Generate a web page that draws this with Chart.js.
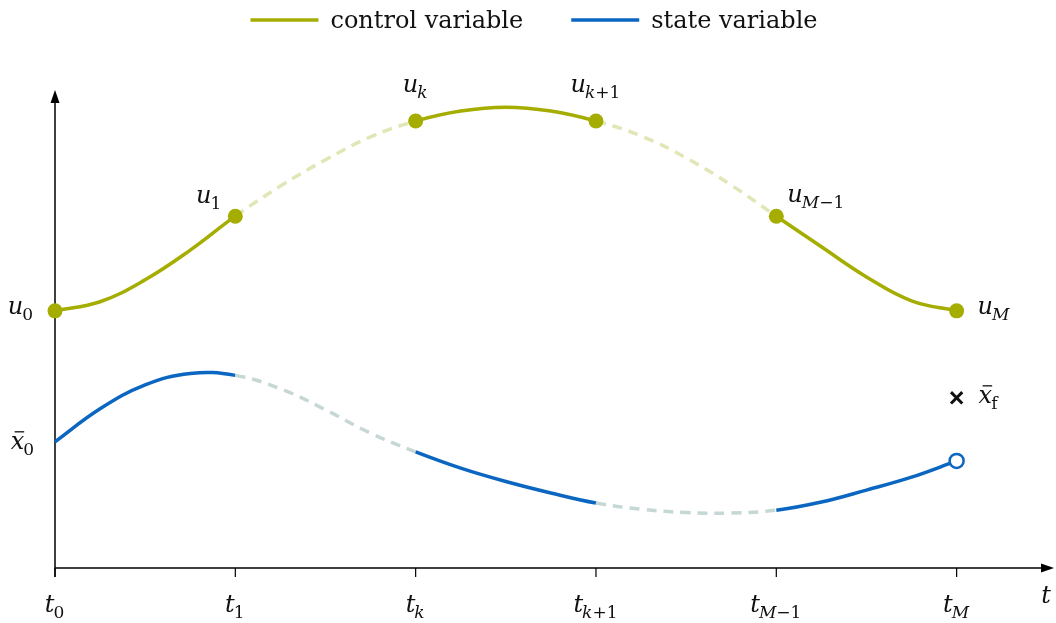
<!DOCTYPE html>
<html>
<head>
<meta charset="utf-8">
<script src="https://cdn.jsdelivr.net/npm/chart.js@4.4.1/dist/chart.umd.min.js"></script>
<style>
  html, body { margin: 0; padding: 0; background: #fff; }
  #wrap { width: 1056px; height: 623px; }
</style>
</head>
<body>
<div id="wrap"><canvas id="chart"></canvas></div>
<script>
// time grid
const tickValues = [0, 1, 2, 3, 4, 5]
const tickSubs = ['0', '1', 'k', 'k+1', 'M−1', 'M']

// sample times along the curves (quarter steps)
const sampleT = [0, 0.25, 0.5, 0.75, 1, 1.25, 1.5, 1.75, 2, 2.25, 2.5, 2.75, 3, 3.25, 3.5, 3.75, 4, 4.25, 4.5, 4.75, 5]

// control variable (0..10 vertical units)
const controlU = [5.38, 5.57, 6.03, 6.65, 7.36, 7.99, 8.54, 9.02, 9.35, 9.56, 9.64, 9.56, 9.35, 9.04, 8.58, 8.01, 7.36, 6.72, 6.09, 5.59, 5.38]

// state variable
const stateX = [2.64, 3.33, 3.83, 4.07, 4.03, 3.75, 3.31, 2.82, 2.43, 2.09, 1.81, 1.57, 1.36, 1.23, 1.16, 1.15, 1.21, 1.38, 1.63, 1.90, 2.24]

// node labels for the control (one per grid time)
const controlSubs = ['0', '1', 'k', 'k+1', 'M−1', 'M']

// terminal target
const targetT = [5]
const targetX = [3.56]

// intervals drawn faded / dashed (start of interval)
const gapStarts = [1, 3]

const OLIVE = '#a4ad00'
const OLIVE_FADE = '#e2e6b6'
const BLUE = '#0a66c0'
const BLUE_FADE = '#c6d8d5'
const FONT = '"DejaVu Serif", serif'

const isGap = x => gapStarts.some(s => x >= s && x < s + 1)
const isNode = t => Number.isInteger(t)

function mathText(ctx, main, sub, x, y, align, bar) {
  ctx.font = `italic 24px ${FONT}`
  const wm = ctx.measureText(main).width
  let ws = 0
  const parts = [...(sub || '')].map(ch => {
    const it = /[kM]/.test(ch)
    ctx.font = `${it ? 'italic ' : ''}17px ${FONT}`
    const w = ctx.measureText(ch).width
    ws += w
    return { ch, it, w }
  })
  const total = wm + ws
  let x0 = x
  if (align === 'right') x0 = x - total
  else if (align === 'center') x0 = x - total / 2
  ctx.fillStyle = '#111'
  ctx.textBaseline = 'alphabetic'
  ctx.textAlign = 'left'
  ctx.font = `italic 24px ${FONT}`
  ctx.fillText(main, x0, y)
  if (bar) {
    ctx.strokeStyle = '#111'
    ctx.lineWidth = 1.3
    ctx.beginPath()
    ctx.moveTo(x0 + 4, y - 17)
    ctx.lineTo(x0 + wm, y - 17)
    ctx.stroke()
  }
  let xs = x0 + wm - 1
  parts.forEach(p => {
    ctx.font = `${p.it ? 'italic ' : ''}17px ${FONT}`
    ctx.fillText(p.ch, xs, y + 6)
    xs += p.w
  })
}

const axesPlugin = {
  id: 'axes',
  beforeDatasetsDraw(chart) {
    const { ctx, chartArea: a, scales: { x } } = chart
    ctx.save()
    ctx.strokeStyle = '#000'
    ctx.fillStyle = '#000'
    ctx.lineWidth = 1.5
    ctx.beginPath()
    ctx.moveTo(a.left, a.bottom + 9)
    ctx.lineTo(a.left, a.top + 10)
    ctx.moveTo(a.left, a.bottom)
    ctx.lineTo(a.right - 10, a.bottom)
    ctx.stroke()
    // arrow heads
    ctx.beginPath()
    ctx.moveTo(a.left, a.top)
    ctx.lineTo(a.left - 4.5, a.top + 13)
    ctx.lineTo(a.left + 4.5, a.top + 13)
    ctx.closePath()
    ctx.fill()
    ctx.beginPath()
    ctx.moveTo(a.right, a.bottom)
    ctx.lineTo(a.right - 13, a.bottom - 4.5)
    ctx.lineTo(a.right - 13, a.bottom + 4.5)
    ctx.closePath()
    ctx.fill()
    // ticks
    ctx.lineWidth = 1.2
    tickValues.forEach(v => {
      const px = x.getPixelForValue(v)
      ctx.beginPath()
      ctx.moveTo(px, a.bottom)
      ctx.lineTo(px, a.bottom + 9)
      ctx.stroke()
    })
    tickValues.forEach((v, i) => {
      mathText(ctx, 't', tickSubs[i], x.getPixelForValue(v), a.bottom + 44, 'center')
    })
    mathText(ctx, 't', '', a.right - 8, a.bottom + 35, 'center')
    ctx.restore()
  }
}

const labelPlugin = {
  id: 'labels',
  afterDatasetsDraw(chart) {
    const { ctx, scales: { x, y } } = chart
    const place = ['left', 'aboveLeft', 'above', 'above', 'aboveRight', 'right']
    ctx.save()
    tickValues.forEach((t, n) => {
      const s = controlSubs[n]
      const px = x.getPixelForValue(t)
      const py = y.getPixelForValue(controlU[sampleT.indexOf(t)])
      const p = place[n]
      if (p === 'left') mathText(ctx, 'u', s, px - 21, py + 3, 'right')
      else if (p === 'aboveLeft') mathText(ctx, 'u', s, px - 13, py - 13, 'right')
      else if (p === 'above') mathText(ctx, 'u', s, px, py - 29, 'center')
      else if (p === 'aboveRight') mathText(ctx, 'u', s, px + 11, py - 14, 'left')
      else mathText(ctx, 'u', s, px + 21, py + 3, 'left')
    })
    mathText(ctx, 'x', '0', x.getPixelForValue(sampleT[0]) - 20, y.getPixelForValue(stateX[0]) + 7, 'right', true)
    mathText(ctx, 'x', 'f', x.getPixelForValue(targetT[0]) + 22, y.getPixelForValue(targetX[0]) + 5, 'left', true)
    ctx.restore()
  }
}

const legendPlugin = {
  id: 'mathLegend',
  afterDraw(chart) {
    const { ctx } = chart
    const items = chart.data.datasets.filter(d => d.inLegend)
    ctx.save()
    ctx.font = `24px ${FONT}`
    const lineW = 68, gap = 12, itemGap = 48
    const widths = items.map(d => lineW + gap + ctx.measureText(d.label).width)
    const total = widths.reduce((s, w) => s + w, 0) + itemGap * (items.length - 1)
    let x0 = 534 - total / 2
    items.forEach((d, i) => {
      ctx.strokeStyle = d.borderColor
      ctx.lineWidth = 3.5
      ctx.beginPath()
      ctx.moveTo(x0, 20)
      ctx.lineTo(x0 + lineW, 20)
      ctx.stroke()
      ctx.fillStyle = '#111'
      ctx.textBaseline = 'alphabetic'
      ctx.fillText(d.label, x0 + lineW + gap, 28)
      x0 += widths[i] + itemGap
    })
    ctx.restore()
  }
}

const pts = (xs, ys) => xs.map((v, i) => ({ x: v, y: ys[i] }))

new Chart(document.getElementById('chart'), {
  type: 'line',
  data: {
    datasets: [
      {
        label: 'control variable',
        inLegend: true,
        data: pts(sampleT, controlU),
        borderColor: OLIVE,
        backgroundColor: OLIVE,
        borderWidth: 3.5,
        tension: 0.4,
        clip: false,
        segment: {
          borderColor: c => isGap(c.p0.parsed.x) ? OLIVE_FADE : OLIVE,
          borderDash: c => isGap(c.p0.parsed.x) ? [10, 7] : []
        },
        pointRadius: c => isNode(sampleT[c.dataIndex]) ? 7.5 : 0,
        pointBackgroundColor: OLIVE,
        pointBorderWidth: 0
      },
      {
        label: 'state variable',
        inLegend: true,
        data: pts(sampleT, stateX),
        borderColor: BLUE,
        backgroundColor: BLUE,
        borderWidth: 3.5,
        tension: 0.4,
        clip: false,
        segment: {
          borderColor: c => isGap(c.p0.parsed.x) ? BLUE_FADE : BLUE,
          borderDash: c => isGap(c.p0.parsed.x) ? [10, 7] : []
        },
        pointRadius: c => c.dataIndex === sampleT.length - 1 ? 7 : 0,
        pointBackgroundColor: '#fff',
        pointBorderColor: BLUE,
        pointBorderWidth: 2.5
      },
      {
        label: 'target',
        type: 'scatter',
        data: pts(targetT, targetX),
        pointStyle: 'crossRot',
        pointRadius: 8,
        borderColor: '#111',
        pointBorderWidth: 3,
        clip: false
      }
    ]
  },
  options: {
    responsive: true,
    maintainAspectRatio: false,
    animation: false,
    events: [],
    layout: { autoPadding: false, padding: { top: 90, left: 55, right: 2, bottom: 55 } },
    plugins: {
      legend: { display: false },
      tooltip: { enabled: false }
    },
    scales: {
      x: { type: 'linear', min: 0, max: 5.54, display: false },
      y: { min: 0, max: 10, display: false }
    }
  },
  plugins: [axesPlugin, labelPlugin, legendPlugin]
})
</script>
</body>
</html>
